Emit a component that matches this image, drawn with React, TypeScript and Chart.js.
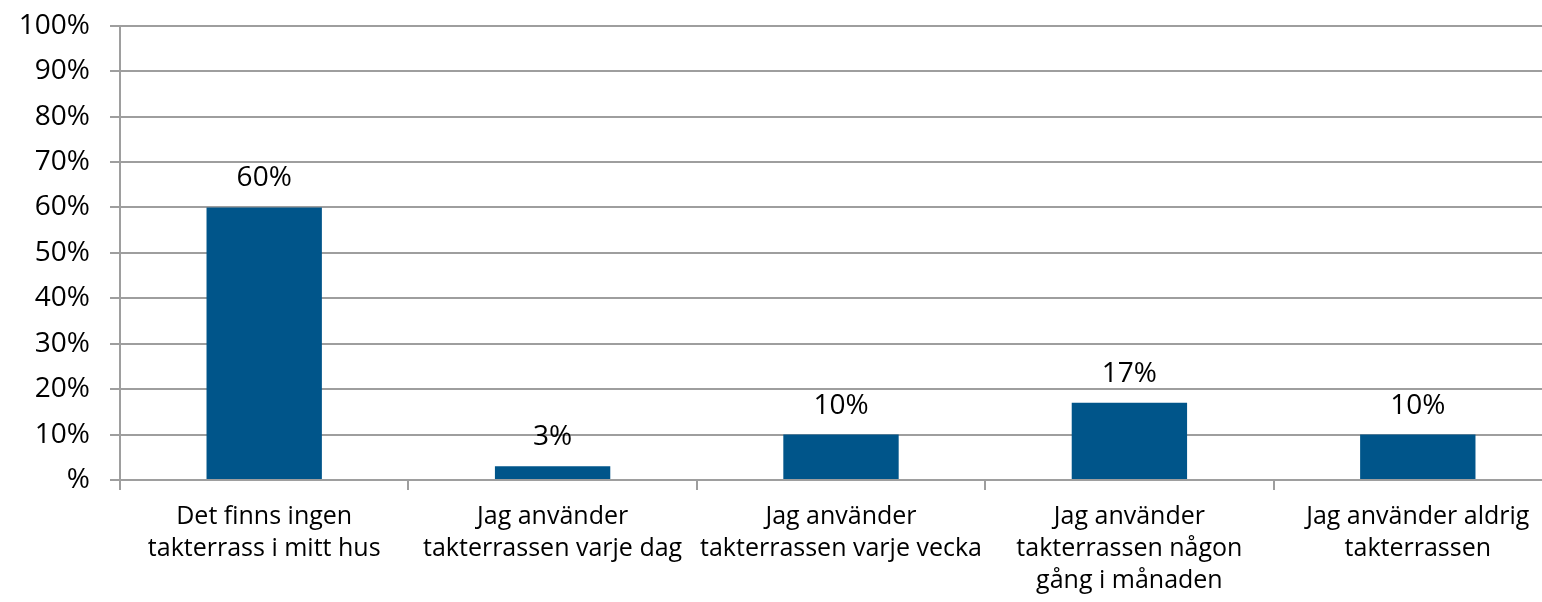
import React, { useEffect, useRef } from "react";
import { Chart, registerables } from "chart.js";

Chart.register(...registerables);

const categories: string[][] = [
  ["Det finns ingen", "takterrass i mitt hus"],
  ["Jag använder", "takterrassen varje dag"],
  ["Jag använder", "takterrassen varje vecka"],
  ["Jag använder", "takterrassen någon", "gång i månaden"],
  ["Jag använder aldrig", "takterrassen"],
];
const values: number[] = [60, 3, 10, 17, 10];
const yTickValues: number[] = [0, 10, 20, 30, 40, 50, 60, 70, 80, 90, 100];

const FONT = "'Open Sans', 'Noto Sans', sans-serif";
const BAR = "#00558A";
const GRID = "#9E9E9E";

const valueLabels = {
  id: "valueLabels",
  afterDatasetsDraw(chart: any) {
    const ctx = chart.ctx;
    const meta = chart.getDatasetMeta(0);
    ctx.save();
    ctx.font = `28px ${FONT}`;
    ctx.fillStyle = "#000";
    ctx.textAlign = "center";
    ctx.textBaseline = "middle";
    meta.data.forEach((bar: any, i: number) => {
      ctx.fillText(`${values[i]}%`, bar.x, bar.y - 29);
    });
    ctx.restore();
  },
};

export default function App() {
  const ref = useRef<HTMLCanvasElement | null>(null);
  useEffect(() => {
    document.body.style.margin = "0";
    document.body.style.overflow = "hidden";
    const chart = new Chart(ref.current!, {
      type: "bar",
      data: {
        labels: categories,
        datasets: [
          {
            data: values,
            backgroundColor: BAR,
            barPercentage: 0.4,
            categoryPercentage: 1,
          },
        ],
      },
      options: {
        responsive: false,
        animation: false,
        devicePixelRatio: 1,
        layout: { padding: 0 },
        plugins: { legend: { display: false }, tooltip: { enabled: false } },
        scales: {
          x: {
            afterFit: (s: any) => {
              s.height = 122;
            },
            grid: {
              display: true,
              drawOnChartArea: false,
              drawTicks: true,
              tickLength: 10,
              offset: true,
              color: GRID,
              lineWidth: 2,
            },
            border: { display: true, color: GRID, width: 2 },
            ticks: {
              color: "#000",
              font: { family: FONT, size: 25, lineHeight: 1.28 },
              padding: 11,
              maxRotation: 0,
              autoSkip: false,
            },
          },
          y: {
            min: 0,
            max: 100,
            afterFit: (s: any) => {
              s.width = 120;
            },
            afterBuildTicks: (s: any) => {
              s.ticks = yTickValues.map((v) => ({ value: v }));
            },
            grid: {
              color: GRID,
              lineWidth: 2,
              tickLength: 10,
            },
            border: { display: true, color: GRID, width: 2 },
            ticks: {
              color: "#000",
              font: { family: FONT, size: 28 },
              padding: 20,
              callback: (v: any) => (v === 0 ? "%" : `${v}%`),
            },
          },
        },
      },
      plugins: [valueLabels],
    });
    return () => chart.destroy();
  }, []);
  return (
    <div style={{ width: 1542, height: 602, overflow: "hidden", position: "relative" }}>
      <canvas ref={ref} width={1562} height={613} style={{ position: "absolute", left: 0, top: -11 }} />
    </div>
  );
}
